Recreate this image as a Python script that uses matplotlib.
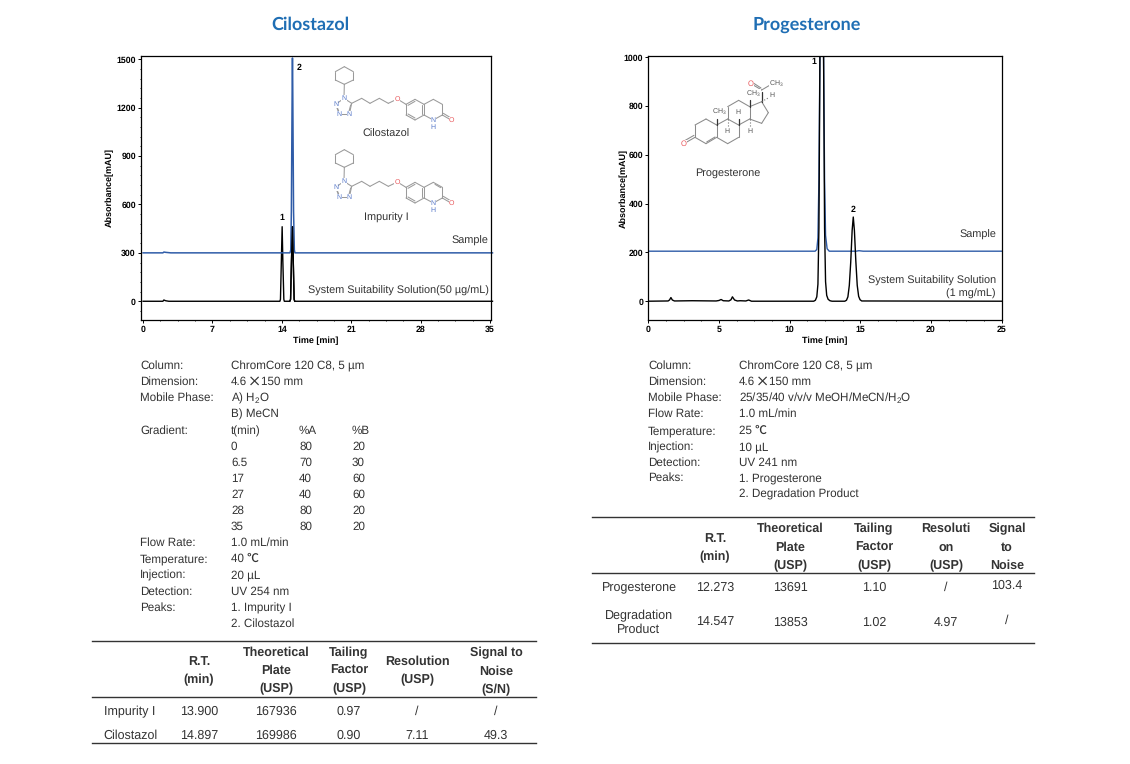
import matplotlib
matplotlib.use('Agg')
import matplotlib.pyplot as plt
from matplotlib.ticker import MultipleLocator, NullLocator

plt.rcParams['font.family'] = ['Liberation Sans', 'Noto Sans CJK SC', 'DejaVu Sans']
plt.rcParams['mathtext.default'] = 'regular'
plt.rcParams['text.hinting'] = 'no_hinting'
plt.rcParams['text.hinting_factor'] = 8

W, H = 1130, 764
TEXT = '#333333'
BLUE_TITLE = '#1F6EB4'
TRACE_BLUE = '#2F5CA8'
BOND = '#9a9a9a'
N_COL = '#5577c8'
O_COL = '#e8585c'
BODY = 8.4

# --- cilostazol chromatogram ---
cilo_t_black = [0, 2.0, 2.1, 2.2, 2.3, 2.6, 13.8, 13.86, 13.95, 14.03, 14.1, 14.2, 14.25,
                14.8, 14.88, 14.97, 15.07, 15.15, 15.24, 15.3, 35.25]
cilo_y_black = [0, 0, 8, 5, 3, 0, 0, 12, 250, 462, 250, 12, 0,
                0, 12, 250, 462, 250, 12, 0, 0]
cilo_t_blue = [0, 2.0, 2.1, 2.3, 2.8, 14.82, 14.9, 14.96, 15.06, 15.08, 15.18, 15.26, 15.32, 35.25]
cilo_y_blue = [300, 300, 305, 303, 300, 300, 318, 560, 1507, 1507, 560, 318, 300, 300]

# --- progesterone chromatogram ---
prog_t_black = [0, 1.4, 1.5, 1.6, 1.7, 1.85, 3.1, 4.8, 5.0, 5.15, 5.3, 5.7, 5.85, 5.95, 6.1, 6.3,
                6.5, 6.9, 7.1, 7.3, 11.7, 11.82, 11.92, 12.0, 12.07, 12.14, 12.27, 12.4, 12.47, 12.54,
                12.62, 12.72, 12.85, 13.0, 13.9, 14.02, 14.12, 14.22, 14.32, 14.42, 14.5, 14.58, 14.68,
                14.78, 14.88, 14.98, 15.1, 25]
prog_y_black = [0, 1, 5, 15, 5, 1, 2, 1, 3, 7, 2, 1, 6, 18, 5, 1,
                2, 1, 5, 0, 0, 4, 18, 70, 300, 1000, 2500, 1000, 300, 80,
                24, 8, 2, 0, 0, 4, 18, 65, 160, 290, 345, 290, 165,
                65, 20, 6, 1, 0]
prog_t_blue = [0, 11.8, 11.92, 12.0, 12.07, 12.14, 12.27, 12.4, 12.47, 12.54, 12.65, 12.8, 14.7, 14.9, 15.2, 25]
prog_y_blue = [205, 205, 212, 260, 500, 1000, 2500, 1000, 500, 270, 215, 205, 205, 207, 205, 205]

# --- method text ---
cilo_labels = ['Column:', 'Dimension:', 'Mobile Phase:', 'Gradient:', 'Flow Rate:',
               'Temperature:', 'Injection:', 'Detection:', 'Peaks:']
cilo_label_y = [365, 381, 397, 430, 542, 558, 574, 591, 607]
cilo_values = ['ChromCore 120 C8, 5 µm', 'A) H$_2$O', 'B) MeCN', '1.0 mL/min', '40 ℃', '20 µL',
               'UV 254 nm', '1. Impurity I', '2. Cilostazol']
cilo_value_y = [365, 397, 413, 542, 558, 574, 591, 607, 623]
grad_header = ['t(min)', '%A', '%B']
grad_t = ['0', '6.5', '17', '27', '28', '35']
grad_a = ['80', '70', '40', '40', '80', '80']
grad_b = ['20', '30', '60', '60', '20', '20']
grad_y = [446, 462, 478, 494, 510, 526]

prog_labels = ['Column:', 'Dimension:', 'Mobile Phase:', 'Flow Rate:', 'Temperature:',
               'Injection:', 'Detection:', 'Peaks:']
prog_label_y = [365, 381, 397, 413, 430, 446, 462, 477]
prog_values = ['ChromCore 120 C8, 5 µm', '25/35/40 v/v/v MeOH/MeCN/H$_2$O', '1.0 mL/min', '25 ℃',
               '10 µL', 'UV 241 nm', '1. Progesterone', '2. Degradation Product']
prog_value_y = [365, 397, 413, 430, 446, 462, 477, 493]

# --- result tables ---
cilo_headers = [['R.T.', '(min)'], ['Theoretical', 'Plate', '(USP)'], ['Tailing', 'Factor', '(USP)'],
                ['Resolution', '(USP)'], ['Signal to', 'Noise', '(S/N)']]
cilo_names = ['Impurity I', 'Cilostazol']
cilo_rows = [['13.900', '167936', '0.97', '/', '/'], ['14.897', '169986', '0.90', '7.11', '49.3']]

prog_headers = [['R.T.', '(min)'], ['Theoretical', 'Plate', '(USP)'], ['Tailing', 'Factor', '(USP)'],
                ['Resoluti', 'on', '(USP)'], ['Signal', 'to', 'Noise']]
prog_names = ['Progesterone', 'Degradation\nProduct']
prog_rows = [['12.273', '13691', '1.10', '/', '103.4'], ['14.547', '13853', '1.02', '4.97', '/']]


def px_axes(fig, x0, y0, x1, y1):
    return fig.add_axes([x0 / W, 1 - y1 / H, (x1 - x0) / W, (y1 - y0) / H])


def style_chart(ax, xlim, ylim, xmaj, xmin, ymaj, ymin, ypad=2):
    ax.set_xlim(*xlim)
    ax.set_ylim(*ylim)
    ax.xaxis.set_major_locator(MultipleLocator(xmaj))
    ax.xaxis.set_minor_locator(MultipleLocator(xmin))
    ax.yaxis.set_major_locator(MultipleLocator(ymaj))
    ax.yaxis.set_minor_locator(MultipleLocator(ymin) if ymin else NullLocator())
    ax.tick_params(which='major', length=2, width=0.7, labelsize=6.3, pad=1.5)
    ax.tick_params(which='minor', length=1, width=0.6)
    ax.tick_params(axis='x', which='major', pad=2.2)
    for lab in ax.get_xticklabels() + ax.get_yticklabels():
        lab.set_fontweight('bold')
    for spine in ax.spines.values():
        spine.set_linewidth(0.9)
    ax.set_xlabel('Time [min]', fontsize=6.5, fontweight='bold', labelpad=2)
    ax.set_ylabel('Absorbance[mAU]', fontsize=6.5, fontweight='bold', labelpad=ypad)


def bonds(ax, segs, color=BOND, lw=0.75, **kw):
    for (x0, y0), (x1, y1) in segs:
        ax.plot([x0, x1], [y0, y1], color=color, lw=lw, solid_capstyle='round', zorder=3, **kw)


def atom(ax, x, y, s, color, size=5):
    ax.text(x, y, s, color=color, fontsize=size, ha='center', va='center', zorder=4,
            bbox=dict(facecolor='white', edgecolor='none', pad=0.2))


def put(ax, x, y, s, size=BODY, **kw):
    # va=center sits about a pixel high against the reference
    kw.setdefault('color', TEXT)
    kw.setdefault('va', 'center')
    ax.text(x, y + 1, s, fontsize=size, **kw)


def draw_tetrazole_chain(ax, dy, impurity):
    """structure in reference pixels, dy shifts it down"""
    def p(zx, zy):
        return 320 + zx / 3, 60 + zy / 3 + dy
    hexa = [p(73, 20), p(100, 35), p(100, 60), p(73, 73), p(46, 60), p(46, 35), p(73, 20)]
    segs = list(zip(hexa[:-1], hexa[1:]))
    segs.append((p(73, 73), p(72, 112)))
    ring5 = [p(72, 115), p(95, 130), p(88, 163), p(58, 163), p(47, 133), p(72, 115)]
    segs += list(zip(ring5[:-1], ring5[1:]))
    segs.append((p(92, 135), p(86, 158)))
    segs.append((p(50, 138), p(58, 158)))
    chain = [p(95, 130), p(125, 115), p(150, 130), p(178, 115), p(205, 130), p(232, 117), p(258, 133)]
    segs += list(zip(chain[:-1], chain[1:]))
    benz = [p(258, 133), p(285, 118), p(312, 133), p(312, 165), p(285, 180), p(258, 165), p(258, 133)]
    segs += list(zip(benz[:-1], benz[1:]))
    segs += [(p(264, 136), p(285, 124)), (p(306, 136), p(306, 162)), (p(264, 162), p(285, 174))]
    lact = [p(312, 133), p(340, 118), p(367, 133), p(367, 165), p(340, 180), p(312, 165)]
    segs += list(zip(lact[:-1], lact[1:]))
    segs += [(p(367, 165), p(393, 180)), (p(370, 160), p(393, 174))]
    if impurity:
        segs.append((p(345, 124), p(362, 134)))
    bonds(ax, segs)
    for zx, zy, s in [(72, 115, 'N'), (47, 133, 'N'), (58, 163, 'N'), (88, 163, 'N'), (340, 180, 'N')]:
        atom(ax, *p(zx, zy), s, N_COL)
    atom(ax, *p(340, 203), 'H', N_COL)
    atom(ax, *p(232, 117), 'O', O_COL)
    atom(ax, *p(395, 181), 'O', O_COL)


def draw_progesterone(ax):
    def p(zx, zy):
        return 600 + zx / 3, 40 + zy / 3
    rings = [
        [(285, 255), (318, 237), (350, 255), (350, 292), (318, 311), (285, 292), (285, 255)],
        [(350, 255), (383, 237), (416, 255), (416, 292), (383, 311), (350, 292)],
        [(383, 237), (383, 200), (416, 181), (449, 200), (449, 237), (416, 255)],
        [(449, 200), (485, 185), (505, 218), (485, 250), (449, 237)],
    ]
    segs = []
    for ring in rings:
        pts = [p(*q) for q in ring]
        segs += list(zip(pts[:-1], pts[1:]))
    segs += [(p(285, 292), p(257, 308)), (p(282, 286), p(254, 302))]
    segs += [(p(320, 306), p(345, 291))]
    segs += [(p(485, 150), p(458, 134)), (p(483, 144), p(460, 129)), (p(485, 150), p(512, 134))]
    bonds(ax, segs, color='#8a8a8a')
    bonds(ax, [(p(350, 255), p(350, 236)), (p(449, 200), p(449, 181)), (p(485, 185), p(485, 155)),
               (p(416, 255), p(416, 238))], color='#333333', lw=0.9)
    bonds(ax, [(p(383, 237), p(383, 262)), (p(449, 237), p(449, 262)), (p(485, 185), p(508, 172))],
          color='#777777', lw=0.8, linestyle=':')
    atom(ax, *p(252, 312), 'O', O_COL, 5.5)
    atom(ax, *p(452, 131), 'O', O_COL, 5.5)
    for zx, zy, s in [(529, 132, 'CH$_3$'), (358, 217, 'CH$_3$'), (460, 162, 'CH$_3$'), (415, 217, 'H'),
                      (382, 273, 'H'), (449, 273, 'H'), (516, 167, 'H')]:
        atom(ax, *p(zx, zy), s, '#555555', 5)


def draw_table(ax, x0, x1, ys, col_x, name_x, headers, header_ys, names, name_ys, rows, row_ys):
    for y in ys:
        ax.plot([x0, x1], [y, y], color='#333333', lw=1.0)
    for cx, head, hy in zip(col_x, headers, header_ys):
        for line, y in zip(head, hy):
            put(ax, cx, y, line, 9, fontweight='bold', ha='center')
    for name, y in zip(names, name_ys):
        put(ax, name_x, y, name, 9, ha='center', linespacing=1.15)
    for row, ry in zip(rows, row_ys):
        for cx, val, y in zip(col_x, row, ry):
            put(ax, cx, y, val, 9, ha='center')


def main():
    fig = plt.figure(figsize=(W / 100, H / 100), dpi=100, facecolor='white')

    # left chart
    ax1 = px_axes(fig, 140.7, 56, 491, 319.5)
    ax1.plot(cilo_t_black, cilo_y_black, color='black', lw=1.0, clip_on=False, zorder=2)
    ax1.plot(cilo_t_blue, cilo_y_blue, color=TRACE_BLUE, lw=1.1, clip_on=False, zorder=2.5)
    ax1.plot(cilo_t_black[13:20], cilo_y_black[13:20], color='black', lw=1.0, zorder=3)
    style_chart(ax1, (-0.24, 35.1), (-113, 1520), 7, 1.75, 300, 60)
    ax1.text(14, 515, '1', fontsize=6.3, fontweight='bold', ha='center', va='center')
    ax1.text(15.7, 1450, '2', fontsize=6.3, fontweight='bold', ha='center', va='center')
    ax1.text(34.85, 375, 'Sample', fontsize=7.85, color=TEXT, ha='right', va='center')
    ax1.text(34.85, 62, 'System Suitability Solution(50 µg/mL)', fontsize=7.85, color=TEXT, ha='right', va='center')

    # right chart
    ax2 = px_axes(fig, 648.3, 56, 1001.7, 320)
    ax2.plot(prog_t_blue, prog_y_blue, color=TRACE_BLUE, lw=1.0, zorder=2)
    ax2.plot(prog_t_black, prog_y_black, color='black', lw=1.0, zorder=2.5)
    style_chart(ax2, (0, 25), (-77, 1005), 5, 1.25, 200, None, ypad=-3)
    ax2.text(11.7, 982, '1', fontsize=6.3, fontweight='bold', ha='center', va='center')
    ax2.text(14.5, 376, '2', fontsize=6.3, fontweight='bold', ha='center', va='center')
    ax2.text(24.6, 270, 'Sample', fontsize=7.85, color=TEXT, ha='right', va='center')
    ax2.text(24.6, 84, 'System Suitability Solution', fontsize=7.85, color=TEXT, ha='right', va='center')
    ax2.text(24.6, 30, '(1 mg/mL)', fontsize=7.85, color=TEXT, ha='right', va='center')

    # overlay in reference pixels for text, rules and structures
    ov = fig.add_axes([0, 0, 1, 1], zorder=5)
    ov.set_xlim(0, W)
    ov.set_ylim(H, 0)
    ov.axis('off')
    ov.patch.set_alpha(0)

    for x, s in [(310, 'Cilostazol'), (807, 'Progesterone')]:
        ov.text(x, 30, s, fontsize=13, fontweight='bold', color=BLUE_TITLE, ha='center', va='baseline',
                family='Lato')

    draw_tetrazole_chain(ov, 0, False)
    draw_tetrazole_chain(ov, 83, True)
    draw_progesterone(ov)
    put(ov, 386, 133, 'Cilostazol', 7.8, ha='center')
    put(ov, 386, 217, 'Impurity I', 7.8, ha='center')
    put(ov, 728, 172, 'Progesterone', 7.8, ha='center')

    # method blocks
    for s, y in zip(cilo_labels, cilo_label_y):
        put(ov, 140, y, s)
    for s, y in zip(cilo_values, cilo_value_y):
        put(ov, 231, y, s)
    for x, s in zip([231, 299, 352], grad_header):
        put(ov, x, 430, s)
    for y, t, a, b in zip(grad_y, grad_t, grad_a, grad_b):
        for x, s in zip([231, 299, 352], [t, a, b]):
            put(ov, x, y, s)
    for s, y in zip(prog_labels, prog_label_y):
        put(ov, 648, y, s)
    for s, y in zip(prog_values, prog_value_y):
        put(ov, 739, y, s)
    for x in [231, 739]:
        put(ov, x, 381, '4.6')
        put(ov, x + 23.5, 381, '×', 9.5, ha='center', family='Noto Sans CJK SC')
        put(ov, x + 30, 381, '150 mm')

    draw_table(ov, 92, 536, [641, 697, 743], [199, 276, 349, 417, 496], 130, cilo_headers,
               [[661, 679], [652, 670, 688], [652, 670, 688], [661, 679], [652, 671, 689]],
               cilo_names, [711, 735], cilo_rows, [[711] * 5, [735] * 5])
    draw_table(ov, 592, 1034, [517, 573, 643], [715, 790, 874, 946, 1007], 639, prog_headers,
               [[538, 556], [528, 547, 565], [528, 547, 565], [528, 547, 565], [528, 547, 565]],
               prog_names, [587, 622], prog_rows, [[587, 587, 587, 587, 585], [622, 622, 622, 622, 620]])

    fig.savefig('out.png', dpi=100, facecolor='white')


if __name__ == '__main__':
    main()
